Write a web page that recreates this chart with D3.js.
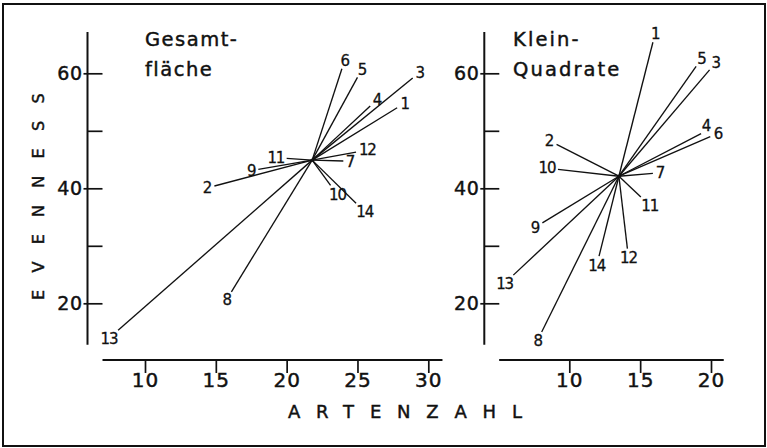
<!DOCTYPE html>
<html>
<head>
<meta charset="utf-8">
<script src="https://cdn.jsdelivr.net/npm/d3@7"></script>
<style>
  html, body { margin: 0; padding: 0; background: #fff; }
  svg { display: block; }
  text { font-family: "DejaVu Sans", sans-serif; fill: #111; stroke: #111; stroke-width: 0.45px; }
</style>
</head>
<body>
<svg id="chart" width="767" height="448"></svg>
<script>
// ---- data ----
const plotIds = [1, 2, 3, 4, 5, 6, 7, 8, 9, 10, 11, 12, 13, 14];

// Panel A: Gesamtfläche
const titleA = ["Gesamt-", "fläche"];
const centerA = [21.8, 44.9];            // [Artenzahl, Evenness]
const artenA  = [27.8, 14.9, 28.9, 25.9, 25.0, 23.9, 24.0, 16.1, 18.0, 23.1, 20.0, 24.9, 8.1, 24.9];
const evenA   = [54.0, 40.4, 59.2, 54.3, 59.3, 60.8, 44.75, 22.0, 43.3, 40.5, 45.2, 46.3, 15.3, 37.4];

// Panel B: Klein-Quadrate
const titleB = ["Klein-", "Quadrate"];
const centerB = [13.5, 42.1];
const artenB  = [15.9, 9.1, 19.9, 19.3, 18.95, 19.95, 15.9, 8.05, 8.1, 9.2, 15.05, 14.1, 6.05, 12.1];
const evenB   = [65.4, 47.65, 60.6, 49.5, 61.2, 49.0, 42.6, 15.0, 34.0, 43.3, 38.5, 29.5, 24.9, 28.2];

const xTicksA = [10, 15, 20, 25, 30];
const xTicksB = [10, 15, 20];
const yTicks  = [20, 30, 40, 50, 60];
const yLabelled = [20, 40, 60];

const xLabel = "ARTENZAHL";
const yLabel = "EVENNESS";

// ---- drawing ----
const svg = d3.select("#chart");

// frame
svg.append("rect").attr("x", 3).attr("y", 4).attr("width", 762).attr("height", 442)
  .attr("fill", "none").attr("stroke", "#111").attr("stroke-width", 2);

const y = d3.scaleLinear().domain([20, 60]).range([303.3, 73.3]);
const xAxisY = 360;

function panel(cfg) {
  const g = svg.append("g");
  const x = d3.scaleLinear().domain(cfg.xDomain).range(cfg.xRange);

  // y axis
  const yAx = d3.axisLeft(y).tickValues(yTicks).tickSizeInner(-15).tickSizeOuter(0).tickPadding(5)
    .tickFormat(d => yLabelled.includes(d) ? d : "");
  const gy = g.append("g").attr("transform", `translate(${cfg.yAxisX},0)`).call(yAx);
  gy.select(".domain").remove();
  gy.selectAll(".tick line").attr("stroke", "#111").attr("stroke-width", 1.7);
  gy.selectAll(".tick").filter(d => yLabelled.includes(d)).append("line")
    .attr("x1", -4).attr("x2", 0).attr("stroke", "#111").attr("stroke-width", 1.7);
  gy.selectAll(".tick text").attr("font-size", 19).attr("letter-spacing", 0.5)
    .attr("font-family", "DejaVu Sans").attr("fill", "#111");
  g.append("line").attr("x1", cfg.yAxisX).attr("x2", cfg.yAxisX)
    .attr("y1", y(cfg.yLine[1])).attr("y2", y(cfg.yLine[0]))
    .attr("stroke", "#111").attr("stroke-width", 2);

  // x axis
  const xAx = d3.axisBottom(x).tickValues(cfg.xTicks).tickSizeInner(13).tickSizeOuter(0).tickPadding(0);
  const gx = g.append("g").attr("transform", `translate(0,${xAxisY})`).call(xAx);
  gx.select(".domain").remove();
  gx.selectAll(".tick line").attr("stroke", "#111").attr("stroke-width", 1.7);
  gx.selectAll(".tick text").attr("font-size", 20).attr("letter-spacing", 1)
    .attr("font-family", "DejaVu Sans").attr("fill", "#111");
  g.append("line").attr("x1", x(cfg.xLine[0])).attr("x2", x(cfg.xLine[1]))
    .attr("y1", xAxisY).attr("y2", xAxisY)
    .attr("stroke", "#111").attr("stroke-width", 2);

  // title
  const t = g.append("text").attr("x", cfg.titleX).attr("y", 46)
    .attr("font-size", 19.5).attr("letter-spacing", cfg.titleLs);
  t.append("tspan").attr("x", cfg.titleX).attr("y", 46).text(cfg.title[0]);
  t.append("tspan").attr("x", cfg.titleX).attr("y", 76).text(cfg.title[1]);

  // star lines
  const cx = x(cfg.center[0]), cy = y(cfg.center[1]);
  const pts = plotIds.map((id, i) => ({ id, ex: x(cfg.arten[i]), ey: y(cfg.even[i]) }));
  g.selectAll("line.star").data(pts).join("line").attr("class", "star")
    .attr("x1", cx).attr("y1", cy).attr("x2", d => d.ex).attr("y2", d => d.ey)
    .attr("stroke", "#111").attr("stroke-width", 1.35);
  g.append("circle").attr("cx", cx).attr("cy", cy).attr("r", 1.7).attr("fill", "#111");

  // label positions: just beyond each line end, along the line direction
  pts.forEach(d => {
    const dx = d.ex - cx, dy = d.ey - cy, L = Math.hypot(dx, dy);
    const ux = dx / L, uy = dy / L;
    d.w = String(d.id).length * 8; d.h = 11;
    const r = 2.5 + Math.abs(ux) * d.w / 2 + Math.abs(uy) * d.h / 2;
    d.lx = d.ex + ux * r; d.ly = d.ey + uy * r;
  });
  // simple collision resolution: push the upper label up/left
  for (let i = 0; i < pts.length; i++) {
    for (let j = 0; j < pts.length; j++) {
      if (i === j) continue;
      const a = pts[i], b = pts[j];
      const ox = (a.w + b.w) / 2 + 4 - Math.abs(a.lx - b.lx);
      const oy = (a.h + b.h) / 2 - Math.abs(a.ly - b.ly);
      if (ox > 0 && oy > 0 && a.ly <= b.ly) {
        a.ly -= oy * 0.6; a.lx -= Math.min(ox, 6);
      }
    }
  }

  g.selectAll("text.lab").data(pts).join("text").attr("class", "lab")
    .attr("font-size", 15).attr("letter-spacing", -1.2).attr("text-anchor", "middle")
    .attr("dy", "0.36em")
    .attr("x", d => d.lx).attr("y", d => d.ly)
    .style("stroke-width", "0.3px")
    .text(d => d.id);
}

panel({
  xDomain: [10, 30], xRange: [145, 428.3], xTicks: xTicksA, xLine: [7, 31],
  yAxisX: 87.5, yLine: [12.8, 67.2], title: titleA, titleX: 145, titleLs: 1.5,
  center: centerA, arten: artenA, even: evenA
});
panel({
  xDomain: [10, 20], xRange: [569.3, 711], xTicks: xTicksB, xLine: [5.05, 20.9],
  yAxisX: 484.3, yLine: [12.8, 67.2], title: titleB, titleX: 513, titleLs: 2.1,
  center: centerB, arten: artenB, even: evenB
});

// axis titles
svg.append("text").attr("x", 288).attr("y", 418).attr("font-size", 18)
  .attr("letter-spacing", 15.8).text(xLabel);
svg.append("text").attr("transform", "translate(44,300) rotate(-90)")
  .attr("font-size", 16).attr("letter-spacing", 17.3).text(yLabel);
</script>
</body>
</html>
